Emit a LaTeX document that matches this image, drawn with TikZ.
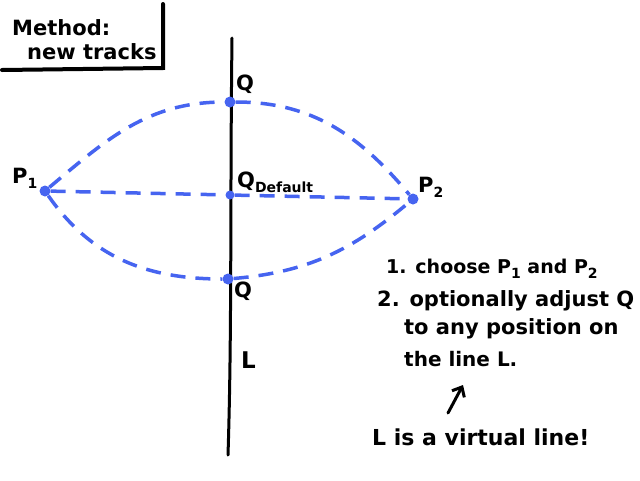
\documentclass[tikz,border=0pt]{standalone}
\usepackage{fontspec}
\setmainfont{DejaVu Sans}
\definecolor{sketchBlue}{RGB}{70, 100, 240}
\usetikzlibrary{arrows.meta, positioning, calc}

\tikzset{
    dot/.style={circle, fill=sketchBlue, inner sep=0pt, minimum size=11pt},
    track/.style={sketchBlue, line width=3.5pt, dash pattern=on 15pt off 10pt},
    pen/.style={black, line width=3pt, line cap=round},
    hand/.style={font=\fontsize{21}{24}\selectfont\bfseries, inner sep=0pt, anchor=base west},
}
\newcommand{\lowsub}[1]{{\fontsize{14}{14}\selectfont\raisebox{-5pt}{#1}}}

\begin{document}
\begin{tikzpicture}[x=1pt, y=-1pt]
    \useasboundingbox (0,0) rectangle (640,480);

    % Method box
    \draw[pen, line width=4pt] (163,4) -- (163,68) -- (2,70);
    \node[hand] (title1) at (12,35) {Method:};
    \node[hand] (title2) at (27,59) {new tracks};

    % Virtual line L
    \coordinate (ltop) at (232,38);
    \coordinate (lbot) at (228,455);
    \draw[pen] (ltop) .. controls (230,200) and (232,330) .. (lbot);
    \node[hand, font=\fontsize{23}{24}\selectfont\bfseries] (lname) at (241,368) {L};

    % Points
    \node[dot] (p1) at (45,191) {};
    \node[dot] (p2) at (413,199) {};
    \node[dot] (qtop) at (230,102) {};
    \node[dot, minimum size=9pt] (qdef) at (230,195) {};
    \node[dot] (qbot) at (228,279) {};

    % Point labels
    \node[hand] (p1lab) at (12,183) {P\lowsub{1}};
    \node[hand] (p2lab) at (418,192) {P\lowsub{2}};
    \node[hand] (qtoplab) at (236,90) {Q};
    \node[hand] (qdeflab) at (237,187) {Q\lowsub{Default}};
    \node[hand] (qbotlab) at (234,297) {Q};

    % Tracks
    \draw[track] (p1) to[out=40, in=180] (qtop) to[out=0, in=130] (p2);
    \draw[track] (p1) -- (qdef) -- (p2);
    \draw[track] (p1) to[out=-55, in=180] (qbot) to[out=5, in=-140] (p2);

    % Steps
    \node[hand, font=\fontsize{19}{22}\selectfont\bfseries] (step1) at (386,273) {1. choose P\lowsub{1} and P\lowsub{2}};
    \node[hand] (step2) at (377,306) {2. optionally adjust Q};
    \node[hand] (step2b) at (404,334) {to any position on};
    \node[hand, font=\fontsize{20}{22}\selectfont\bfseries] (step2c) at (404,366) {the line L.};

    % Note
    \node[hand, font=\fontsize{22}{24}\selectfont\bfseries] (note) at (372,445) {L is a virtual line!};
    \coordinate (arrowtail) at (448,413);
    \draw[pen, -{Straight Barb[length=8pt, width=14pt]}] (arrowtail) -- (463,385);
\end{tikzpicture}
\end{document}
